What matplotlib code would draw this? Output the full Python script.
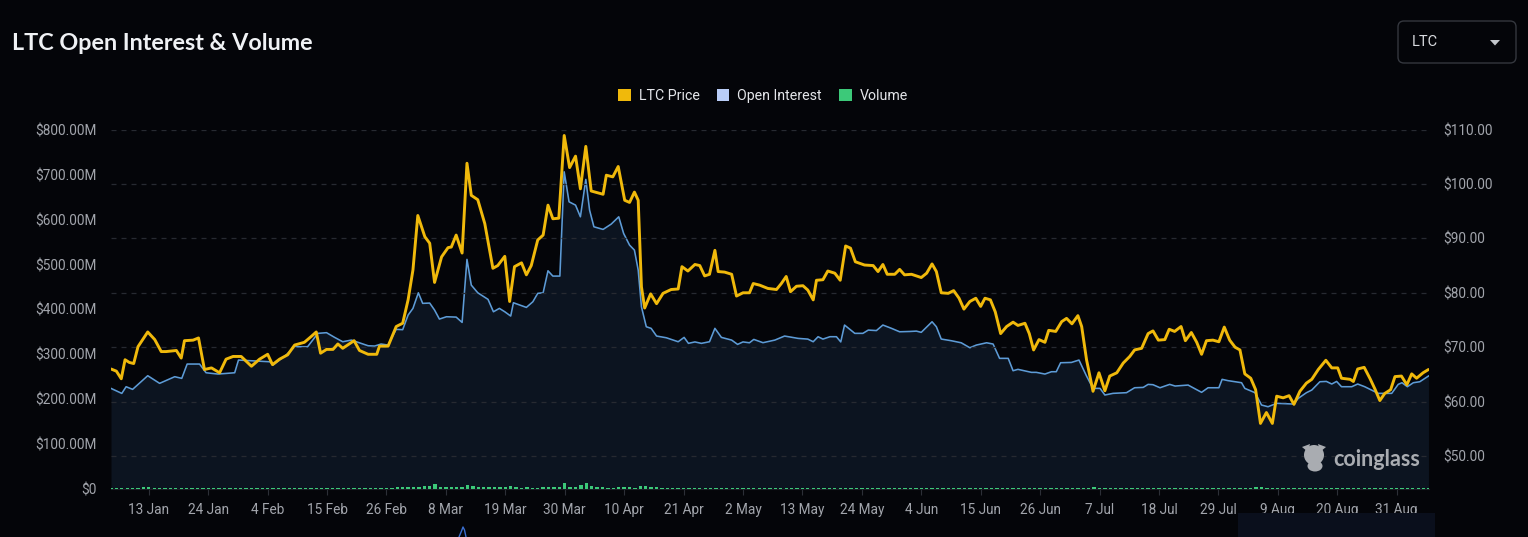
import matplotlib
matplotlib.use('Agg')
import matplotlib.pyplot as plt
import numpy as np
import pandas as pd
from matplotlib.patches import FancyBboxPatch, Patch, Polygon, Ellipse, Rectangle

# ---------------- data ----------------
# time stamps are given in days since 2024-01-01 00:00
price_day = [5.0, 6.0, 6.9, 7.6, 8.4, 9.2, 10.0, 11.8, 13.1, 14.3, 15.2, 17.1, 18.0, 18.6, 20.2, 21.2, 22.3, 23.6,
             25.1, 26.3, 27.6, 29.1, 31.0, 32.5, 34.0, 34.9, 36.2, 37.7, 39.0, 40.8, 42.1, 43.0, 43.8, 44.9, 46.1,
             47.0, 47.9, 50.0, 51.0, 52.6, 54.2, 54.7, 56.3, 57.8, 59.0, 60.0, 60.9, 61.8, 63.1, 64.0, 64.9, 66.2,
             67.4, 68.0, 68.9, 70.0, 70.9, 71.7, 72.9, 74.2, 75.7, 76.6, 77.9, 78.8, 79.7, 81.0, 81.9, 82.8, 84.0,
             85.0, 85.9, 86.8, 87.9, 88.9, 89.9, 91.0, 91.9, 92.9, 93.9, 96.1, 96.7, 97.9, 98.9, 100.1, 101.0,
             101.9, 102.6, 103.2, 103.8, 104.9, 106.0, 107.2, 108.7, 110.0, 110.7, 111.8, 113.1, 114.0, 114.9,
             115.8, 116.8, 117.4, 118.6, 119.9, 120.8, 122.0, 123.2, 123.9, 125.1, 126.6, 128.2, 129.1, 130.0,
             130.8, 131.9, 133.1, 134.0, 135.0, 135.6, 136.8, 137.7, 139.0, 140.0, 141.0, 141.9, 142.8, 144.5,
             146.1, 147.0, 147.9, 148.7, 150.1, 151.0, 151.9, 153.2, 155.0, 156.0, 157.0, 157.8, 158.7, 160.0,
             161.0, 162.0, 162.9, 164.0, 165.1, 166.0, 166.8, 167.8, 168.7, 169.7, 170.8, 172.0, 172.9, 174.2,
             175.0, 175.8, 176.8, 177.9, 178.6, 179.9, 181.0, 181.9, 182.9, 184.0, 184.7, 185.6, 186.8, 187.9,
             189.0, 189.9, 191.2, 192.4, 193.6, 194.5, 195.8, 197.0, 197.9, 198.9, 200.1, 200.9, 201.9, 203.1,
             203.9, 205.0, 206.0, 206.9, 207.8, 209.0, 210.1, 211.1, 212.1, 213.1, 214.0, 214.9, 216.0, 216.9,
             217.8, 218.9, 220.0, 220.8, 222.0, 223.1, 224.0, 225.1, 226.3, 227.3, 228.5, 229.9, 231.0, 232.1,
             232.8, 234.4, 235.0, 235.8, 237.0, 238.1, 239.0, 239.9, 240.8, 241.9, 242.7, 243.9, 244.9, 245.8,
             246.7, 247.9, 248.9]
price_val = [66.0, 65.6, 64.2, 67.7, 67.2, 67.0, 70.1, 72.8, 71.4, 69.2, 69.2, 69.4, 68.0, 71.2, 71.3, 71.7, 65.9,
             66.2, 65.3, 67.8, 68.3, 68.3, 66.5, 67.8, 68.7, 66.8, 67.8, 68.6, 70.4, 70.9, 72.0, 72.8, 68.9, 69.6,
             69.6, 70.6, 69.8, 71.2, 69.4, 68.7, 68.7, 70.2, 70.2, 73.8, 74.4, 78.7, 84.2, 94.2, 90.3, 89.1, 81.9,
             86.6, 88.3, 88.4, 90.6, 87.3, 103.8, 97.9, 97.1, 92.7, 84.5, 85.0, 86.7, 78.4, 84.8, 85.5, 83.3, 85.0,
             89.7, 90.6, 96.1, 93.6, 93.7, 108.9, 103.0, 105.1, 99.1, 106.9, 98.7, 98.1, 101.6, 101.3, 103.2, 97.0,
             96.6, 98.5, 97.0, 81.1, 77.2, 79.8, 78.0, 79.9, 80.6, 80.7, 84.8, 84.0, 85.2, 85.0, 83.1, 83.4, 87.8,
             83.9, 83.8, 83.4, 79.4, 80.0, 80.0, 81.7, 81.4, 80.8, 80.6, 81.7, 83.0, 80.2, 81.2, 81.3, 80.5, 78.7,
             82.3, 82.4, 84.0, 83.6, 82.3, 88.6, 88.2, 85.7, 85.1, 85.0, 83.9, 85.2, 83.4, 83.4, 84.3, 83.3, 83.4,
             82.8, 83.6, 85.3, 83.9, 80.0, 79.9, 80.4, 79.0, 77.0, 78.4, 79.0, 77.5, 79.0, 78.7, 76.5, 72.5, 73.8,
             74.6, 74.0, 74.4, 72.5, 69.5, 71.4, 70.9, 73.1, 72.9, 74.7, 75.3, 74.3, 75.8, 73.8, 67.7, 61.9, 65.3,
             62.0, 64.7, 65.3, 67.1, 68.3, 69.5, 69.8, 72.5, 73.0, 71.3, 71.4, 73.3, 72.9, 73.8, 71.2, 72.7, 70.9,
             68.7, 71.2, 71.3, 71.0, 73.7, 71.3, 70.0, 69.5, 65.1, 64.3, 62.2, 56.0, 58.0, 56.0, 61.0, 60.7, 61.1,
             59.5, 61.9, 63.4, 64.1, 65.9, 67.6, 66.2, 66.2, 64.3, 64.1, 63.7, 66.0, 66.3, 64.2, 62.3, 60.2, 61.5,
             62.2, 64.6, 64.7, 63.1, 65.1, 64.3, 65.3, 65.9]

oi_day = [5.0, 7.0, 7.8, 9.0, 11.8, 14.0, 16.8, 18.1, 19.1, 21.4, 22.6, 24.8, 27.9, 28.6, 34.4, 35.0, 37.4, 39.0,
          41.4, 43.3, 44.9, 46.4, 47.9, 49.5, 52.6, 53.8, 55.0, 56.3, 56.9, 57.8, 59.0, 60.0, 60.9, 61.9, 62.7,
          64.0, 64.9, 65.8, 67.1, 68.9, 70.0, 70.9, 71.7, 72.9, 74.8, 75.8, 76.9, 77.9, 79.0, 79.5, 80.7, 81.9,
          83.1, 84.0, 85.0, 85.9, 86.8, 88.1, 88.9, 89.8, 91.0, 91.9, 92.9, 93.6, 94.4, 96.1, 97.6, 99.0, 99.9,
          101.0, 101.9, 102.6, 103.2, 104.1, 105.0, 106.0, 107.8, 110.0, 111.1, 111.9, 113.1, 114.3, 115.8, 116.8,
          118.0, 119.9, 121.0, 122.0, 123.2, 124.0, 125.7, 127.9, 129.7, 132.2, 134.0, 135.0, 135.9, 136.8, 138.1,
          139.3, 140.1, 140.8, 142.7, 144.2, 145.2, 146.7, 147.9, 149.5, 151.0, 152.9, 154.1, 155.0, 157.0, 157.8,
          158.7, 160.6, 162.4, 164.0, 165.2, 167.1, 168.3, 169.5, 171.1, 172.0, 172.9, 175.4, 176.3, 177.9, 179.1,
          180.0, 180.8, 182.8, 184.2, 185.6, 186.8, 188.1, 189.0, 190.5, 193.0, 194.5, 196.1, 197.0, 197.9, 199.2,
          200.1, 201.0, 202.0, 204.4, 206.9, 208.1, 210.1, 210.7, 211.8, 214.3, 214.9, 216.8, 218.0, 219.2, 220.8,
          223.9, 224.8, 226.3, 227.3, 228.8, 230.0, 231.0, 231.9, 232.8, 234.7, 235.8, 237.1, 239.6, 242.1, 243.3,
          244.0, 245.0, 246.1, 247.3, 248.9]
oi_val = [224.2, 213.0, 227.9, 222.0, 252.4, 235.4, 250.2, 246.5, 278.4, 278.4, 259.0, 256.1, 259.0, 287.3, 283.5,
          276.2, 298.4, 317.0, 317.0, 346.8, 348.3, 337.8, 328.1, 331.8, 319.2, 318.5, 323.0, 320.7, 335.6, 355.7,
          355.0, 387.5, 402.4, 437.2, 413.6, 414.3, 398.7, 378.6, 383.8, 383.0, 371.2, 511.6, 454.3, 437.2, 422.5,
          394.9, 402.4, 394.9, 385.3, 415.0, 409.8, 404.6, 417.2, 435.9, 437.2, 486.2, 474.4, 474.4, 706.7, 639.9,
          632.5, 606.5, 689.8, 621.4, 584.2, 578.4, 590.2, 606.5, 569.5, 543.4, 532.3, 487.8, 406.0, 361.5, 357.9,
          340.8, 337.0, 328.1, 337.8, 324.5, 327.7, 324.5, 328.1, 357.9, 337.8, 331.8, 322.2, 327.7, 325.8, 333.3,
          326.0, 331.8, 340.8, 335.6, 334.0, 328.1, 339.3, 334.0, 339.3, 339.3, 327.7, 365.3, 346.8, 346.8, 354.1,
          353.0, 365.3, 357.9, 350.3, 351.0, 351.8, 349.0, 372.6, 361.5, 334.1, 330.3, 325.8, 314.7, 320.7, 325.8,
          323.0, 291.1, 291.1, 263.5, 266.6, 259.9, 259.9, 256.1, 261.3, 261.3, 281.3, 282.0, 287.3, 251.7, 224.2,
          224.2, 209.4, 213.1, 214.6, 225.6, 226.4, 233.1, 232.4, 225.6, 229.4, 233.1, 229.4, 231.6, 215.4, 225.6,
          225.6, 244.3, 241.4, 236.8, 224.2, 214.5, 187.1, 183.3, 190.9, 189.3, 202.0, 214.5, 220.5, 239.0, 239.7,
          233.9, 239.7, 227.9, 227.9, 233.9, 227.9, 213.1, 213.1, 233.1, 236.8, 227.9, 236.8, 239.0, 251.7]

# daily volume (in $M), 2024-01-06 .. 2024-09-06
vol_start = '2024-01-06'
vol_jan = [2.5, 2.0, 2.5, 3.0, 2.5, 3.0, 3.5, 4.0, 3.0, 2.5, 2.0, 2.0, 2.0, 2.5, 2.0, 2.0, 2.5, 2.0, 2.5, 3.0, 2.0,
           2.0, 2.5, 2.0, 2.0, 2.0]
vol_feb = [2.0, 2.0, 2.0, 1.8, 2.0, 2.0, 2.0, 2.0, 2.5, 2.0, 2.0, 2.0, 2.5, 3.0, 2.5, 2.0, 2.0, 2.0, 2.0, 2.0, 2.0,
           2.0, 2.0, 2.0, 2.0, 2.5, 3.0, 3.5, 4.0]
vol_mar = [4.0, 5.0, 4.5, 6.0, 6.0, 11.0, 5.0, 4.0, 3.5, 3.5, 4.5, 9.5, 7.0, 4.5, 5.0, 4.5, 3.5, 4.0, 3.5, 7.3, 5.0,
           3.0, 3.5, 2.5, 2.5, 3.5, 5.0, 5.0, 3.5, 12.5, 4.5]
vol_apr = [4.5, 9.5, 12.5, 7.3, 5.0, 4.5, 3.0, 3.0, 3.5, 3.5, 3.5, 3.0, 7.3, 7.3, 4.5, 3.5, 3.0, 3.0, 3.0, 2.5, 2.0,
           2.0, 2.0, 2.0, 2.0, 2.0, 2.5, 2.0, 2.0, 2.5]
vol_may = [2.5, 2.5, 2.0, 2.0, 2.0, 2.0, 2.0, 2.0, 2.0, 2.0, 2.0, 2.0, 2.0, 2.0, 2.5, 2.5, 2.0, 2.0, 2.0, 2.0, 3.0,
           2.5, 2.0, 2.0, 2.0, 2.0, 2.0, 2.0, 2.0, 2.0, 2.0]
vol_jun = [2.0, 2.0, 2.0, 2.0, 2.0, 2.0, 2.5, 2.0, 2.0, 2.0, 2.0, 2.0, 2.0, 2.0, 2.0, 2.0, 2.0, 2.0, 2.0, 2.0, 2.0,
           2.0, 2.0, 2.0, 2.5, 2.0, 2.0, 2.0, 2.0, 2.0]
vol_jul = [2.0, 2.0, 2.0, 2.5, 3.0, 3.5, 2.5, 2.0, 2.0, 2.0, 2.0, 2.0, 2.0, 2.0, 2.0, 2.0, 2.0, 2.0, 2.0, 2.0, 2.0,
           2.0, 2.0, 2.0, 2.0, 2.0, 2.0, 2.0, 2.0, 2.0, 2.0]
vol_aug = [2.0, 2.0, 2.0, 2.5, 4.5, 3.5, 2.5, 2.5, 2.0, 2.0, 2.0, 2.0, 2.0, 2.0, 2.0, 2.0, 2.0, 2.0, 2.0, 2.0, 2.0,
           2.0, 2.0, 2.0, 2.0, 2.0, 2.0, 2.0, 2.0, 2.0, 2.0]
vol_sep = [2.0, 2.0, 2.0, 2.0, 2.0, 2.5]

left_ticks = [0, 100, 200, 300, 400, 500, 600, 700, 800]
right_ticks = [50, 60, 70, 80, 90, 100, 110]
xtick_dates = ['2024-01-13', '2024-01-24', '2024-02-04', '2024-02-15', '2024-02-26', '2024-03-08', '2024-03-19',
               '2024-03-30', '2024-04-10', '2024-04-21', '2024-05-02', '2024-05-13', '2024-05-24', '2024-06-04',
               '2024-06-15', '2024-06-26', '2024-07-07', '2024-07-18', '2024-07-29', '2024-08-09', '2024-08-20',
               '2024-08-31']
xtick_labels = ['13 Jan', '24 Jan', '4 Feb', '15 Feb', '26 Feb', '8 Mar', '19 Mar', '30 Mar', '10 Apr', '21 Apr',
                '2 May', '13 May', '24 May', '4 Jun', '15 Jun', '26 Jun', '7 Jul', '18 Jul', '29 Jul', '9 Aug',
                '20 Aug', '31 Aug']

assert len(price_day) == len(price_val)
assert len(oi_day) == len(oi_val)

# ---------------- styling ----------------
BG = '#040509'
FILL = '#0c1420'
PRICE_C = '#f0b90b'
OI_C = '#5d9bd6'
OI_LEG = '#b9cdf7'
VOL_C = '#3cc979'
GRID_C = '#272a31'
TXT = '#a2a5ac'

BASE = pd.Timestamp('2024-01-01')
def to_dt(days):
    return BASE + pd.to_timedelta(np.asarray(days, dtype=float), unit='D')

vol_vals = vol_jan + vol_feb + vol_mar + vol_apr + vol_may + vol_jun + vol_jul + vol_aug + vol_sep
vol_dt = pd.date_range(vol_start, periods=len(vol_vals), freq='D')
price_dt = to_dt(price_day)
oi_dt = to_dt(oi_day)

W, H = 1528, 537
fig = plt.figure(figsize=(W / 100, H / 100), dpi=100)
fig.patch.set_facecolor(BG)

def fx(px):
    return px / W

def fy(py):
    return 1 - py / H

ax = fig.add_axes([fx(111), fy(489), fx(1429) - fx(111), fy(129.5) - fy(489)])
ax.set_facecolor(BG)
ax2 = ax.twinx()
ax2.patch.set_visible(False)

# OI area + line
ax.fill_between(oi_dt, oi_val, 0, color=FILL, linewidth=0, zorder=1)
ax.plot(oi_dt, oi_val, color=OI_C, lw=1.15, zorder=3, solid_joinstyle='round')
# volume
ax.bar(vol_dt, vol_vals, width=0.62, color=VOL_C, linewidth=0, zorder=4)

# price
ax2.plot(price_dt, price_val, color=PRICE_C, lw=2.1, zorder=5, solid_joinstyle='round', solid_capstyle='round')

ax.set_xlim(BASE + pd.Timedelta(days=5.0), BASE + pd.Timedelta(days=249.0))
ax.set_ylim(0, 801)
ax2.set_ylim(43.95, 110.0)

ax.set_yticks(left_ticks)
ax.set_yticklabels(['$0' if v == 0 else f'${v:.2f}M' for v in left_ticks])
ax2.set_yticks(right_ticks)
ax2.set_yticklabels([f'${v:.2f}' for v in right_ticks])
ax.set_xticks(pd.to_datetime(xtick_dates))
ax.set_xticklabels(xtick_labels)

for lab in ax.get_yticklabels() + ax2.get_yticklabels() + ax.get_xticklabels():
    lab.set_fontfamily(['Roboto', 'DejaVu Sans'])
    lab.set_fontsize(9.8)
    lab.set_color(TXT)

ax.tick_params(axis='y', length=0, pad=10)
ax2.tick_params(axis='y', length=0, pad=10)
ax.tick_params(axis='x', length=4, width=0.8, color='#2c2f37', pad=6)

ax2.yaxis.grid(True, color=GRID_C, linestyle=(0, (4, 4)), linewidth=0.9)
ax2.set_axisbelow(True)
for a in (ax, ax2):
    for s in a.spines.values():
        s.set_visible(False)
ax.spines['bottom'].set_visible(True)
ax.spines['bottom'].set_color('#1c1f26')
ax.spines['bottom'].set_linewidth(0.8)

# title
fig.text(fx(12), fy(44), 'LTC Open Interest & Volume', fontsize=16.8, fontweight='bold', color='#f0f2f5',
         va='center', ha='left', family=['Lato', 'DejaVu Sans'])

# legend
handles = [Patch(facecolor=PRICE_C, edgecolor='none'), Patch(facecolor=OI_LEG, edgecolor='none'),
           Patch(facecolor=VOL_C, edgecolor='none')]
leg = fig.legend(handles, ['LTC Price', 'Open Interest', 'Volume'], loc='center',
                 bbox_to_anchor=(fx(763), fy(96)), ncol=3, frameon=False, handlelength=0.9,
                 handleheight=0.9, handletextpad=0.55, columnspacing=1.2,
                 prop=dict(family=['Roboto', 'DejaVu Sans'], size=10.2))
for t in leg.get_texts():
    t.set_color('#e4e6ea')

# overlay in pixel coordinates
ov = fig.add_axes([0, 0, 1, 1])
ov.set_xlim(0, W)
ov.set_ylim(H, 0)
ov.axis('off')

# dropdown
ov.add_patch(FancyBboxPatch((1398, 21), 118, 42, boxstyle='round,pad=0,rounding_size=6',
                            facecolor=BG, edgecolor='#34373e', linewidth=1.0))
ov.text(1412, 42.5, 'LTC', color='#d8dade', fontsize=10.5, va='center', ha='left',
        family=['Roboto', 'DejaVu Sans'])
ov.add_patch(Polygon([(1490, 40), (1500, 40), (1495, 45.5)], closed=True, facecolor='#c3c6cb', edgecolor='none'))

# watermark
WM = '#a9acb1'
ov.add_patch(Ellipse((1314, 455), 20, 20, facecolor=WM, edgecolor='none'))
ov.add_patch(Polygon([(1302, 447), (1310, 444), (1308, 452)], closed=True, facecolor=WM, edgecolor='none'))
ov.add_patch(Polygon([(1326, 447), (1318, 444), (1320, 452)], closed=True, facecolor=WM, edgecolor='none'))
ov.add_patch(Ellipse((1315, 466), 15, 11, facecolor=WM, edgecolor='none'))
ov.text(1333, 459, 'coinglass', color=WM, fontsize=15.5, fontweight='bold', va='center', ha='left',
        family=['Lato', 'DejaVu Sans'])

# bits of the zoom slider at the bottom
ov.add_patch(Rectangle((1238, 513), 197, 24, facecolor='#0a0f1c', edgecolor='none'))
ov.plot([459, 461.5, 463, 464.5, 466], [537, 531, 527, 530, 537], color='#3b6fd1', lw=1)

fig.savefig('out.png', dpi=100, facecolor=BG)
